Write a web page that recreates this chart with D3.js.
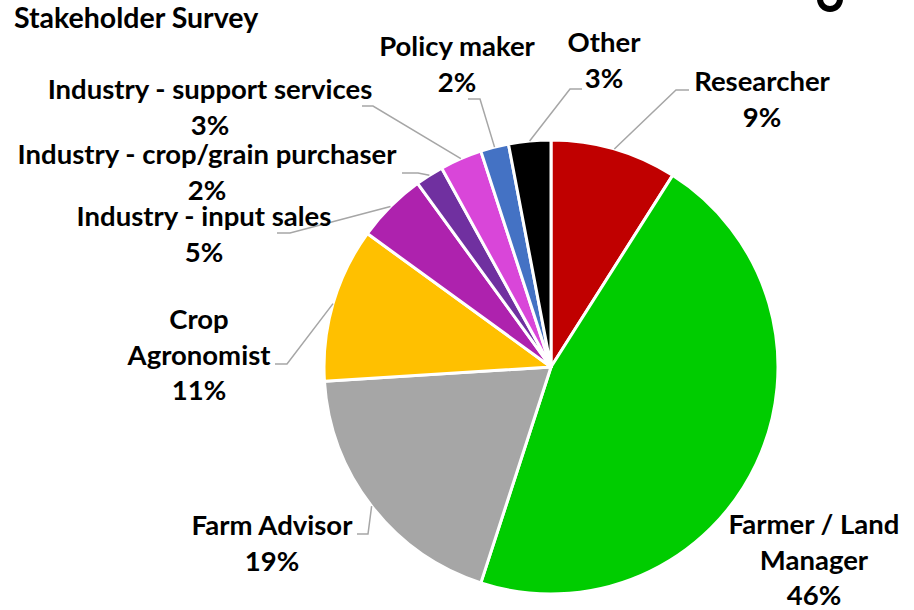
<!DOCTYPE html>
<html>
<head>
<meta charset="utf-8">
<script src="https://cdn.jsdelivr.net/npm/d3@7"></script>
<style>
  html, body { margin: 0; padding: 0; background: #fff; }
  svg { display: block; }
  text { font-family: Lato, "Open Sans", sans-serif; font-weight: 700; fill: #000; }
</style>
</head>
<body>
<svg id="chart" width="914" height="610"></svg>
<script>
// Survey respondents by stakeholder group (percent), clockwise from 12 o'clock
const categories = [
  "Researcher",
  "Farmer / Land Manager",
  "Farm Advisor",
  "Crop Agronomist",
  "Industry - input sales",
  "Industry - crop/grain purchaser",
  "Industry - support services",
  "Policy maker",
  "Other"
];
const shares = [9, 46, 19, 11, 5, 2, 3, 2, 3];
const sliceColors = ["#C00000", "#00CC00", "#A6A6A6", "#FFC000", "#AE22AE", "#7030A0", "#D946D9", "#4472C4", "#000000"];

// How each category's label is broken into lines
const labelLines = [
  ["Researcher"],
  ["Farmer / Land", "Manager"],
  ["Farm Advisor"],
  ["Crop", "Agronomist"],
  ["Industry - input sales"],
  ["Industry - crop/grain purchaser"],
  ["Industry - support services"],
  ["Policy maker"],
  ["Other"]
];

// Label placement: text centre x, first baseline y, and leader-line elbow / end (null = no leader)
const labelLayout = [
  { x: 762, y: 91,  elbow: [676, 90],  end: [689, 90] },
  { x: 814, y: 534, elbow: null,       end: null },
  { x: 272, y: 535, elbow: [368, 534], end: [357, 534] },
  { x: 199, y: 329, elbow: [287, 364], end: [275, 364] },
  { x: 204, y: 226, elbow: [290, 233], end: [277, 233] },
  { x: 207, y: 164, elbow: [418, 173], end: [402, 173] },
  { x: 210, y: 99,  elbow: [373, 106], end: [362, 106] },
  { x: 457, y: 56,  elbow: [480, 99],  end: [468, 99] },
  { x: 604, y: 52,  elbow: [570, 89],  end: [582, 89] }
];

const svg = d3.select("#chart");
const cx = 551, cy = 367, radius = 227;
const lineGap = 35.5;

const data = categories.map((c, i) => ({ name: c, value: shares[i], color: sliceColors[i], lines: labelLines[i], layout: labelLayout[i] }));

const pie = d3.pie().value(d => d.value).sort(null);
const arc = d3.arc().innerRadius(0).outerRadius(radius);
const arcs = pie(data);

const g = svg.append("g").attr("transform", `translate(${cx},${cy})`);

g.selectAll("path.slice")
  .data(arcs)
  .join("path")
  .attr("class", "slice")
  .attr("d", arc)
  .attr("fill", d => d.data.color)
  .attr("stroke", "#fff")
  .attr("stroke-width", 3)
  .attr("stroke-linejoin", "round");

// Leader lines: from the slice rim at its mid-angle to the label
const rimPoint = d => {
  const a = (d.startAngle + d.endAngle) / 2;
  return [cx + radius * Math.sin(a), cy - radius * Math.cos(a)];
};
svg.selectAll("polyline.leader")
  .data(arcs.filter(d => d.data.layout.elbow))
  .join("polyline")
  .attr("class", "leader")
  .attr("points", d => [rimPoint(d), d.data.layout.elbow, d.data.layout.end].map(p => p.join(",")).join(" "))
  .attr("fill", "none")
  .attr("stroke", "#A6A6A6")
  .attr("stroke-width", 1.5);

// Category labels with percentage on the last line
const fontSize = 27.5;
const labels = svg.selectAll("text.label")
  .data(arcs)
  .join("text")
  .attr("class", "label")
  .attr("text-anchor", "middle")
  .attr("font-size", fontSize);

labels.each(function(d) {
  const t = d3.select(this);
  const lines = d.data.lines.concat([d.data.value + "%"]);
  lines.forEach((s, k) => {
    t.append("tspan")
      .attr("x", d.data.layout.x)
      .attr("y", d.data.layout.y + k * lineGap)
      .text(s);
  });
});

// Title
svg.append("text")
  .attr("x", 14)
  .attr("y", 28)
  .attr("font-size", 28.5)
  .text("Stakeholder Survey");

// Partial ring at the top-right edge
svg.append("circle")
  .attr("cx", 830)
  .attr("cy", -1)
  .attr("r", 10)
  .attr("fill", "none")
  .attr("stroke", "#000")
  .attr("stroke-width", 6);
</script>
</body>
</html>
